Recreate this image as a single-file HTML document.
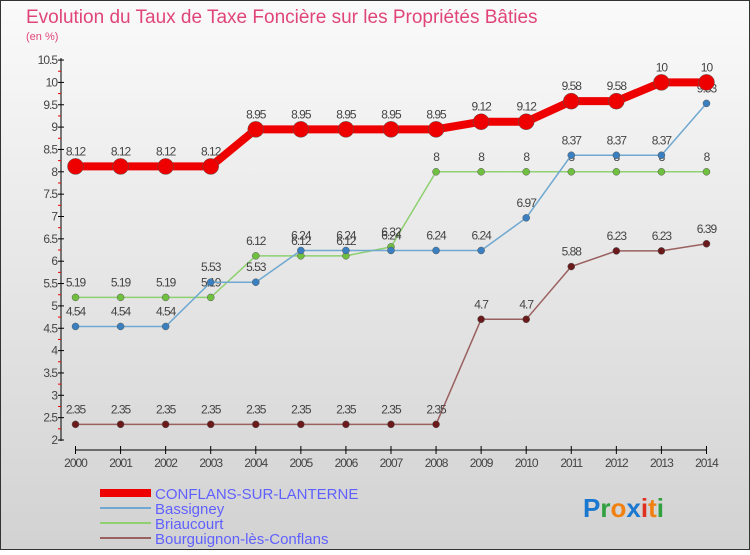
<!DOCTYPE html>
<html><head><meta charset="utf-8"><style>
body{margin:0;width:750px;height:550px;overflow:hidden;font-family:"Liberation Sans",sans-serif}
svg text{font-family:"Liberation Sans",sans-serif}
</style></head><body>
<svg id="c" width="750" height="550" xmlns="http://www.w3.org/2000/svg">
<defs><linearGradient id="bg" x1="0" y1="0" x2="0" y2="1"><stop offset="0" stop-color="#fafafa"/><stop offset="1" stop-color="#d2d2d2"/></linearGradient></defs>
<rect x="0.5" y="0.5" width="749" height="549" fill="url(#bg)" stroke="#333"/>
<text x="26" y="23" font-size="19" fill="#e0457a">Evolution du Taux de Taxe Foncière sur les Propriétés Bâties</text>
<text x="26" y="40" font-size="11" fill="#e0457a">(en %)</text>
<g id="axes"></g><g id="series"></g>
<g>
<rect x="100" y="489" width="51" height="8" fill="#e00"/>
<text x="155" y="499" font-size="15" fill="#6060ff">CONFLANS-SUR-LANTERNE</text>
<line x1="100" y1="508" x2="151" y2="508" stroke="#6fa8d0" stroke-width="2"/>
<text x="155" y="514" font-size="15" fill="#6060ff">Bassigney</text>
<line x1="100" y1="523" x2="151" y2="523" stroke="#8fd070" stroke-width="2"/>
<text x="155" y="529" font-size="15" fill="#6060ff">Briaucourt</text>
<line x1="100" y1="538" x2="151" y2="538" stroke="#9a6060" stroke-width="2"/>
<text x="155" y="544" font-size="15" fill="#6060ff">Bourguignon-lès-Conflans</text>
</g>
<g font-size="26" font-weight="bold">
<text x="583" y="517"><tspan fill="#1a78d0">P</tspan><tspan fill="#30a040">r</tspan><tspan fill="#f08010">o</tspan><tspan fill="#1a78d0">x</tspan><tspan fill="#e03020">i</tspan><tspan fill="#f08010">t</tspan><tspan fill="#30a040">i</tspan></text>
</g>
</svg>
<script>
const years=[2000,2001,2002,2003,2004,2005,2006,2007,2008,2009,2010,2011,2012,2013,2014];
const yTicks=[2,2.5,3,3.5,4,4.5,5,5.5,6,6.5,7,7.5,8,8.5,9,9.5,10,10.5];
const conflans=[8.12,8.12,8.12,8.12,8.95,8.95,8.95,8.95,8.95,9.12,9.12,9.58,9.58,10,10];
const bassigney=[4.54,4.54,4.54,5.53,5.53,6.24,6.24,6.24,6.24,6.24,6.97,8.37,8.37,8.37,9.53];
const briaucourt=[5.19,5.19,5.19,5.19,6.12,6.12,6.12,6.32,8,8,8,8,8,8,8];
const bourguignon=[2.35,2.35,2.35,2.35,2.35,2.35,2.35,2.35,2.35,4.7,4.7,5.88,6.23,6.23,6.39];
const NS="http://www.w3.org/2000/svg";
const X=i=>75.5+i*45.07, Y=v=>440-(v-2)*44.7;
function mk(p,t,a){const e=document.createElementNS(NS,t);for(const k in a)e.setAttribute(k,a[k]);p.appendChild(e);return e;}
const ax=document.getElementById('axes');
const ya=mk(ax,'line',{x1:61,y1:58,x2:61,y2:441,stroke:'#000'});


yTicks.forEach(v=>{mk(ax,'line',{x1:58,y1:Y(v),x2:64,y2:Y(v),stroke:'#000'});
 if(v<10.5)mk(ax,'line',{x1:58,y1:Y(v+0.25),x2:61,y2:Y(v+0.25),stroke:'#e00'});
 const t=mk(ax,'text',{x:57,y:Y(v)+4,'font-size':12,fill:'#444','text-anchor':'end','letter-spacing':'-1'});t.textContent=String(v);
 
 });
const xa=mk(ax,'line',{x1:X(0),y1:450,x2:X(14),y2:450,stroke:'#000'});


years.forEach((y,i)=>{mk(ax,'line',{x1:X(i),y1:446,x2:X(i),y2:454,stroke:'#000'});
 const t=mk(ax,'text',{x:X(i),y:467,'font-size':12,fill:'#444','text-anchor':'middle','letter-spacing':'-1'});t.textContent=y;
 
 });
const sg=document.getElementById('series');
function series(name,vals,color,w,r,dot){
 const g=mk(sg,'g',{});
 
 
 mk(g,'polyline',{points:vals.map((v,i)=>X(i)+','+Y(v)).join(' '),fill:'none',stroke:color,'stroke-width':w});
 vals.forEach((v,i)=>{const c=mk(g,'circle',{cx:X(i),cy:Y(v),r:r,fill:dot,stroke:'#555','stroke-width':0.5});
  
  
  const t=mk(g,'text',{x:X(i),y:Y(v)-11,'font-size':12,fill:'#444','text-anchor':'middle','letter-spacing':'-1'});t.textContent=String(v);
  
  });
}
series('bourguignon',bourguignon,'#9a6060',1.5,3.5,'#6a1a1a');
series('briaucourt',briaucourt,'#8fd070',1.5,3.5,'#70c040');
series('bassigney',bassigney,'#6fa8d0',1.5,3.5,'#3a80c0');
series('conflans',conflans,'#e00',8,8,'#e00');
</script>
</body></html>
